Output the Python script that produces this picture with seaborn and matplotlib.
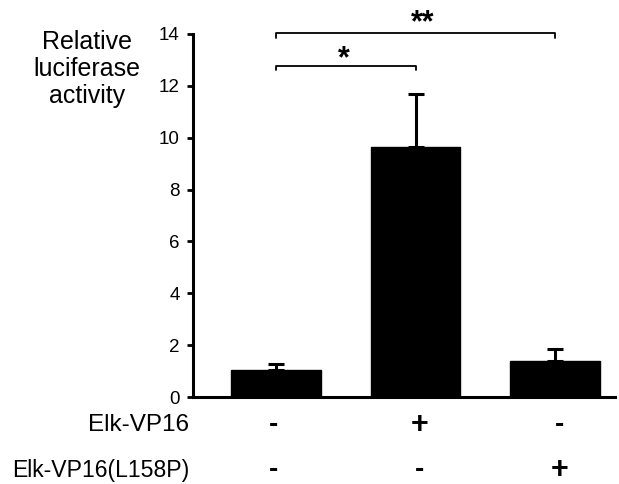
import matplotlib
matplotlib.use("Agg")
import matplotlib.pyplot as plt
import seaborn as sns
import pandas as pd

conditions = ["ctrl", "Elk-VP16", "Elk-VP16(L158P)"]
means = [1.05, 9.65, 1.38]
errors = [0.22, 2.02, 0.48]
row_labels = ["Elk-VP16", "Elk-VP16(L158P)"]
row_signs = [["-", "+", "-"], ["-", "-", "+"]]
yticks = [0, 2, 4, 6, 8, 10, 12, 14]
brackets = [(0, 1, 12.78, "*"), (0, 2, 14.03, "**")]

sns.set_theme(style="white")
plt.rcParams['font.family'] = ['Liberation Sans', 'DejaVu Sans']
plt.rcParams['text.color'] = 'black'

df = pd.DataFrame({"cond": conditions, "val": means})

fig = plt.figure(figsize=(6.19, 4.84), dpi=100)
ax = fig.add_axes([193/619, 87/484, (615-193)/619, 363/484])

sns.barplot(data=df, x="cond", y="val", color="black", errorbar=None,
            width=0.64, ax=ax, saturation=1)
for p in ax.patches:
    p.set_edgecolor("black")
ax.errorbar(range(len(means)), means, yerr=[[0]*len(means), errors], fmt="none",
            ecolor="black", elinewidth=2.2, capsize=5.5, capthick=2.2, zorder=1)

ax.set_xlim(-0.595, 2.43)
ax.set_ylim(0, 14)
ax.set_yticks(yticks)
ax.set_yticklabels([str(t) for t in yticks], fontsize=13.5)
ax.set_xticks([])
ax.set_xlabel("")
ax.set_ylabel("")
for s in ["top", "right"]:
    ax.spines[s].set_visible(False)
for s in ["left", "bottom"]:
    ax.spines[s].set_linewidth(2.2)
    ax.spines[s].set_color("black")
ax.tick_params(axis="y", direction="out", length=4, width=2, left=True, pad=5.5, colors="black")

fig.text(87/619, 1 - 69/484, "Relative\nluciferase\nactivity", ha="center", va="center",
         fontsize=18, linespacing=1.15, color="black")

# sign rows
row_y = [425, 470]
row_fs = [17.5, 16.6]
sign_dx = [-0.02, 0.03, 0.03]
for ry, lab, signs, lfs in zip(row_y, row_labels, row_signs, row_fs):
    yf = 1 - ry/484
    fig.text(189/619, yf, lab, ha="right", va="center", fontsize=lfs, color="black")
    for i, s in enumerate(signs):
        xd = ax.transData.transform((i + sign_dx[i], 0))[0]
        xf = fig.transFigure.inverted().transform((xd, 0))[0]
        fs = 22 if s == "+" else 20
        fig.text(xf, yf, s, ha="center", va="center", fontsize=fs, fontweight="bold",
                 color="black")

# brackets
star_dx = {"*": -0.013, "**": 0.054}
star_y = {"*": 12.73, "**": 14.1}
for x0, x1, y, star in brackets:
    drop = 0.17
    ax.plot([x0, x0, x1, x1], [y - drop, y, y, y - drop], color="black", lw=1.3,
            clip_on=False)
    ax.text((x0 + x1) / 2 + star_dx[star], star_y[star], star, ha="center", va="baseline",
            fontsize=22, fontweight="bold", clip_on=False, color="black")

fig.savefig("out.png", dpi=100, facecolor="white")
